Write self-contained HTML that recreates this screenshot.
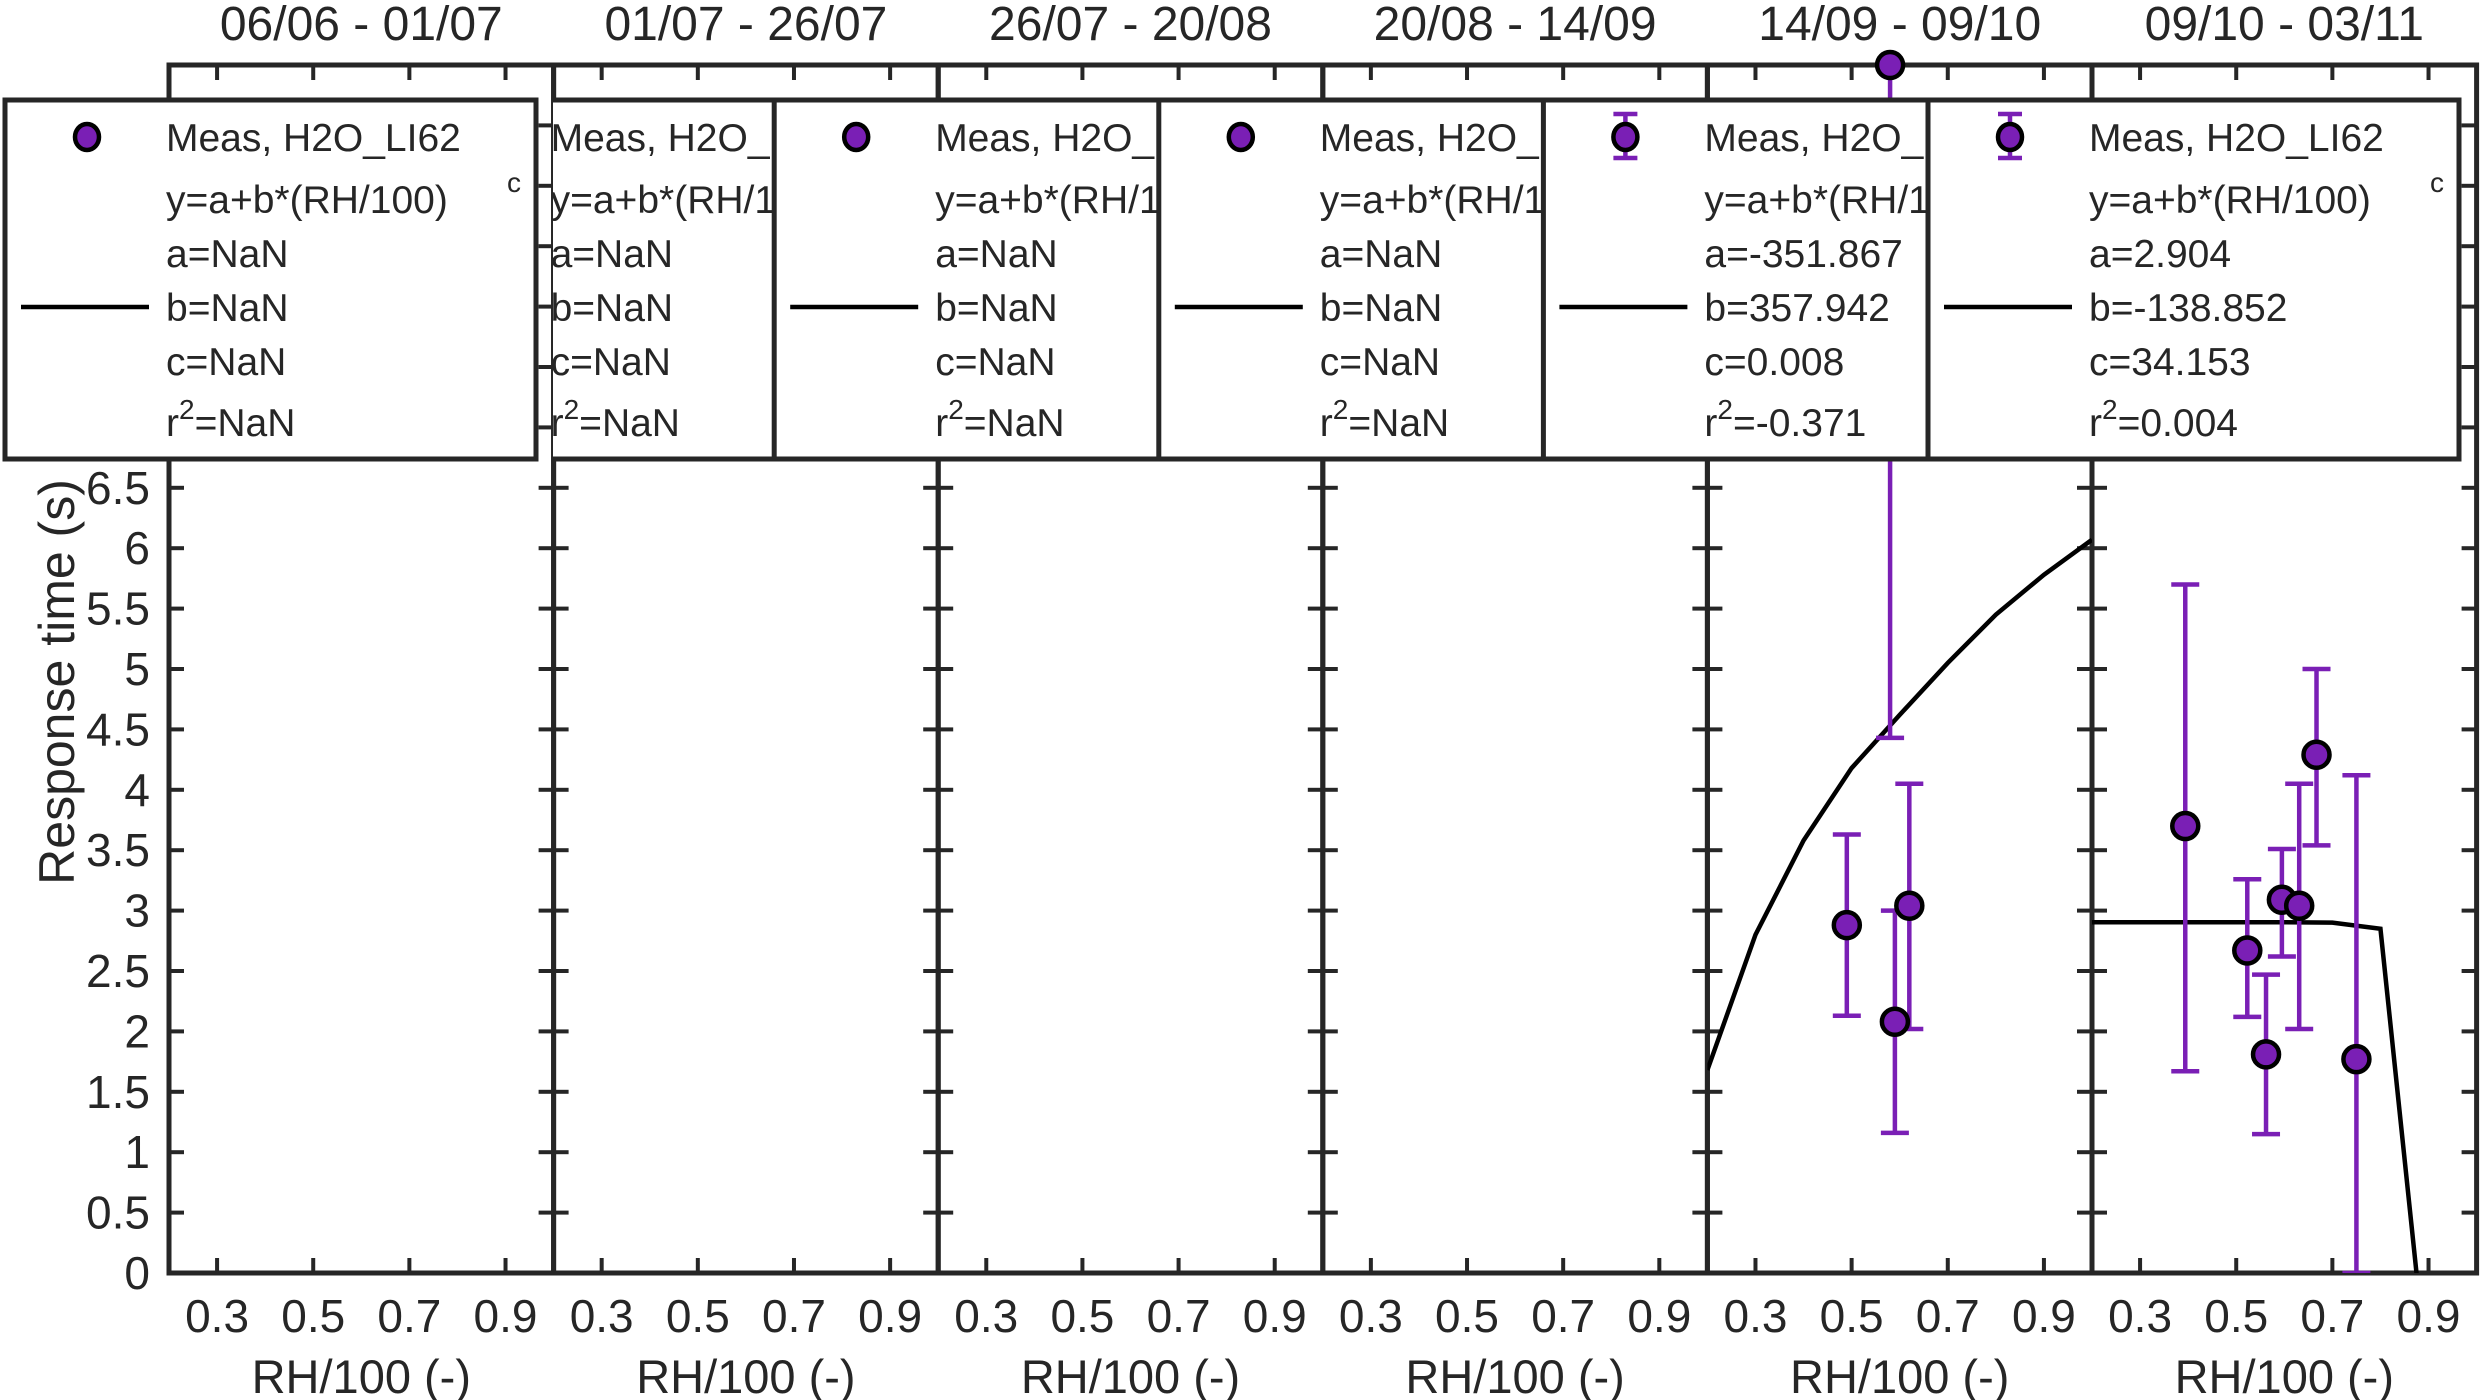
<!DOCTYPE html>
<html><head><meta charset="utf-8"><style>
html,body{margin:0;padding:0;background:#fff;width:2480px;height:1400px;overflow:hidden}
svg{display:block}
text{font-family:"Liberation Sans",Arial,sans-serif;fill:#262626}
</style></head><body>
<svg id="chart" width="2480" height="1400" viewBox="0 0 2480 1400" xmlns="http://www.w3.org/2000/svg" style="overflow:hidden"></svg>
<script>
const titles = ["06/06 - 01/07","01/07 - 26/07","26/07 - 20/08","20/08 - 14/09","14/09 - 09/10","09/10 - 03/11"];
const legA = ["a=NaN","a=NaN","a=NaN","a=NaN","a=-351.867","a=2.904"];
const legB = ["b=NaN","b=NaN","b=NaN","b=NaN","b=357.942","b=-138.852"];
const legC = ["c=NaN","c=NaN","c=NaN","c=NaN","c=0.008","c=34.153"];
const legR = ["=NaN","=NaN","=NaN","=NaN","=-0.371","=0.004"];
const xTicks = [0.3,0.5,0.7,0.9];
const yTicks = [0,0.5,1,1.5,2,2.5,3,3.5,4,4.5,5,5.5,6,6.5,7,7.5,8,8.5,9,9.5,10];
const yLabels = ["0","0.5","1","1.5","2","2.5","3","3.5","4","4.5","5","5.5","6","6.5","7","7.5","8","8.5","9","9.5"];
// panel 5 data
const p5x = [0.49,0.59,0.62,0.58];
const p5y = [2.88,2.08,3.04,10.0];
const p5lo = [2.13,1.16,2.02,4.43];
const p5hi = [3.63,3.0,4.05,12];
// panel 6 data
const p6x = [0.394,0.523,0.562,0.595,0.631,0.667,0.75];
const p6y = [3.70,2.67,1.81,3.09,3.04,4.29,1.77];
const p6lo = [1.67,2.12,1.15,2.62,2.02,3.54,0];
const p6hi = [5.70,3.26,2.47,3.51,4.05,5.00,4.12];
// fit lines
const fitX = [0.2,0.3,0.4,0.5,0.6,0.7,0.8,0.9,1.0];
const fit5 = [1.68,2.80,3.58,4.18,4.62,5.05,5.45,5.78,6.07];
const fit6 = [2.904,2.904,2.904,2.904,2.904,2.90,2.85,-0.95,-4.7];

const svg = document.getElementById('chart');
const NS = 'http://www.w3.org/2000/svg';
function mk(tag, attrs, parent){const e=document.createElementNS(NS,tag);for(const k in attrs)e.setAttribute(k,attrs[k]);(parent||svg).appendChild(e);return e;}
const L0=169, W=384.6, TOP=65, BOT=1273, AX='#262626', PUR='#7a1fb5';
function xs(i,v){return L0+i*W+(v-0.2)/0.8*W;}
function ys(v){return BOT-v/10*(BOT-TOP);}

const defs = mk('defs',{});
for(let i=0;i<6;i++){
  const cp=mk('clipPath',{id:'clip'+i},defs);
  mk('rect',{x:L0+i*W,y:TOP,width:W,height:BOT-TOP},cp);
}
const cl2=mk('clipPath',{id:'legclip1'},defs);
mk('rect',{x:553,y:0,width:1000,height:600},cl2);

for(let i=0;i<6;i++){
  const g=mk('g',{});
  
  
  const left=L0+i*W;
  const t=mk('text',{x:left+W/2,y:40,'text-anchor':'middle','font-size':48},g);
  t.textContent=titles[i];
  
  
  mk('rect',{x:left,y:TOP,width:W,height:BOT-TOP,fill:'none',stroke:AX,'stroke-width':5},g);
  xTicks.forEach(v=>{
    const x=xs(i,v);
    mk('line',{x1:x,y1:BOT,x2:x,y2:BOT-15,stroke:AX,'stroke-width':4},g);
    mk('line',{x1:x,y1:TOP,x2:x,y2:TOP+15,stroke:AX,'stroke-width':4},g);
    const tl=mk('text',{x:x,y:1332,'text-anchor':'middle','font-size':46},g);
    tl.textContent=v.toFixed(1);
    
    
  });
  yTicks.forEach(v=>{
    const y=ys(v);
    mk('line',{x1:left,y1:y,x2:left+15,y2:y,stroke:AX,'stroke-width':4},g);
    mk('line',{x1:left+W,y1:y,x2:left+W-15,y2:y,stroke:AX,'stroke-width':4},g);
  });
  const xt=mk('text',{x:left+W/2,y:1393,'text-anchor':'middle','font-size':47},g);
  xt.textContent='RH/100 (-)';
  
  
}
yLabels.forEach((s,k)=>{
  const t=mk('text',{x:150,y:ys(yTicks[k])+16,'text-anchor':'end','font-size':46});
  t.textContent=s;
  
  
});
const yt=mk('text',{x:74,y:682,'text-anchor':'middle','font-size':50,transform:'rotate(-90 74 682)'});
yt.textContent='Response time (s)';



function drawFit(i,vals){
  const pts=fitX.map((x,k)=>xs(i,x)+','+ys(vals[k])).join(' ');
  const pl=mk('polyline',{points:pts,fill:'none',stroke:'#000','stroke-width':4.5,'clip-path':'url(#clip'+i+')'});
  
  
}
function drawPts(i,X,Y,LO,HI){
  X.forEach((x,k)=>{
    const g=mk('g',{'clip-path':'url(#clip'+i+')'});
    
    
    const cx=xs(i,x);
    mk('line',{x1:cx,y1:ys(LO[k]),x2:cx,y2:ys(HI[k]),stroke:PUR,'stroke-width':4.5},g);
    mk('line',{x1:cx-14,y1:ys(LO[k]),x2:cx+14,y2:ys(LO[k]),stroke:PUR,'stroke-width':4.5},g);
    mk('line',{x1:cx-14,y1:ys(HI[k]),x2:cx+14,y2:ys(HI[k]),stroke:PUR,'stroke-width':4.5},g);
  });
  X.forEach((x,k)=>{
    const c=mk('ellipse',{cx:xs(i,x),cy:ys(Y[k]),rx:13,ry:13,fill:PUR,stroke:'#000','stroke-width':4.5});
    
    
  });
}
drawFit(4,fit5);
drawPts(4,p5x,p5y,p5lo,p5hi);
drawFit(5,fit6);
drawPts(5,p6x,p6y,p6lo,p6hi);

// legends
const rows=[137,199,253,307,361,422];
for(let i=0;i<6;i++){
  const Lx=L0+i*W-164;
  const attrs={};
  if(i===1) attrs['clip-path']='url(#legclip1)';
  const g=mk('g',attrs);
  
  
  mk('rect',{x:Lx,y:100,width:531,height:359,fill:'#fff',stroke:AX,'stroke-width':5},g);
  const mx=Lx+82;
  if(i>=4){
    mk('line',{x1:mx,y1:114,x2:mx,y2:158,stroke:PUR,'stroke-width':4.5},g);
    mk('line',{x1:mx-12,y1:114,x2:mx+12,y2:114,stroke:PUR,'stroke-width':4.5},g);
    mk('line',{x1:mx-12,y1:158,x2:mx+12,y2:158,stroke:PUR,'stroke-width':4.5},g);
  }
  mk('ellipse',{cx:mx,cy:137,rx:12,ry:13,fill:PUR,stroke:'#000','stroke-width':4.5},g);
  mk('line',{x1:Lx+16,y1:307,x2:Lx+144,y2:307,stroke:'#000','stroke-width':4.5},g);
  const tx=Lx+161;
  const lines=['Meas, H2O_LI62','y=a+b*(RH/100)',legA[i],legB[i],legC[i]];
  lines.forEach((s,k)=>{
    const t=mk('text',{x:tx,y:rows[k]+14,'font-size':39,fill:'#000'},g);
    t.textContent=s;
    
    
  });
  const sc=mk('text',{x:Lx+502,y:192,'font-size':28},g);
  sc.textContent='c';
  const r=mk('text',{x:tx,y:rows[5]+14,'font-size':39},g);
  
  
  const t1=mk('tspan',{},r);t1.textContent='r';
  const t2=mk('tspan',{dy:-17,'font-size':28},r);t2.textContent='2';
  const t3=mk('tspan',{dy:17},r);t3.textContent=legR[i];
}
</script>
</body></html>
